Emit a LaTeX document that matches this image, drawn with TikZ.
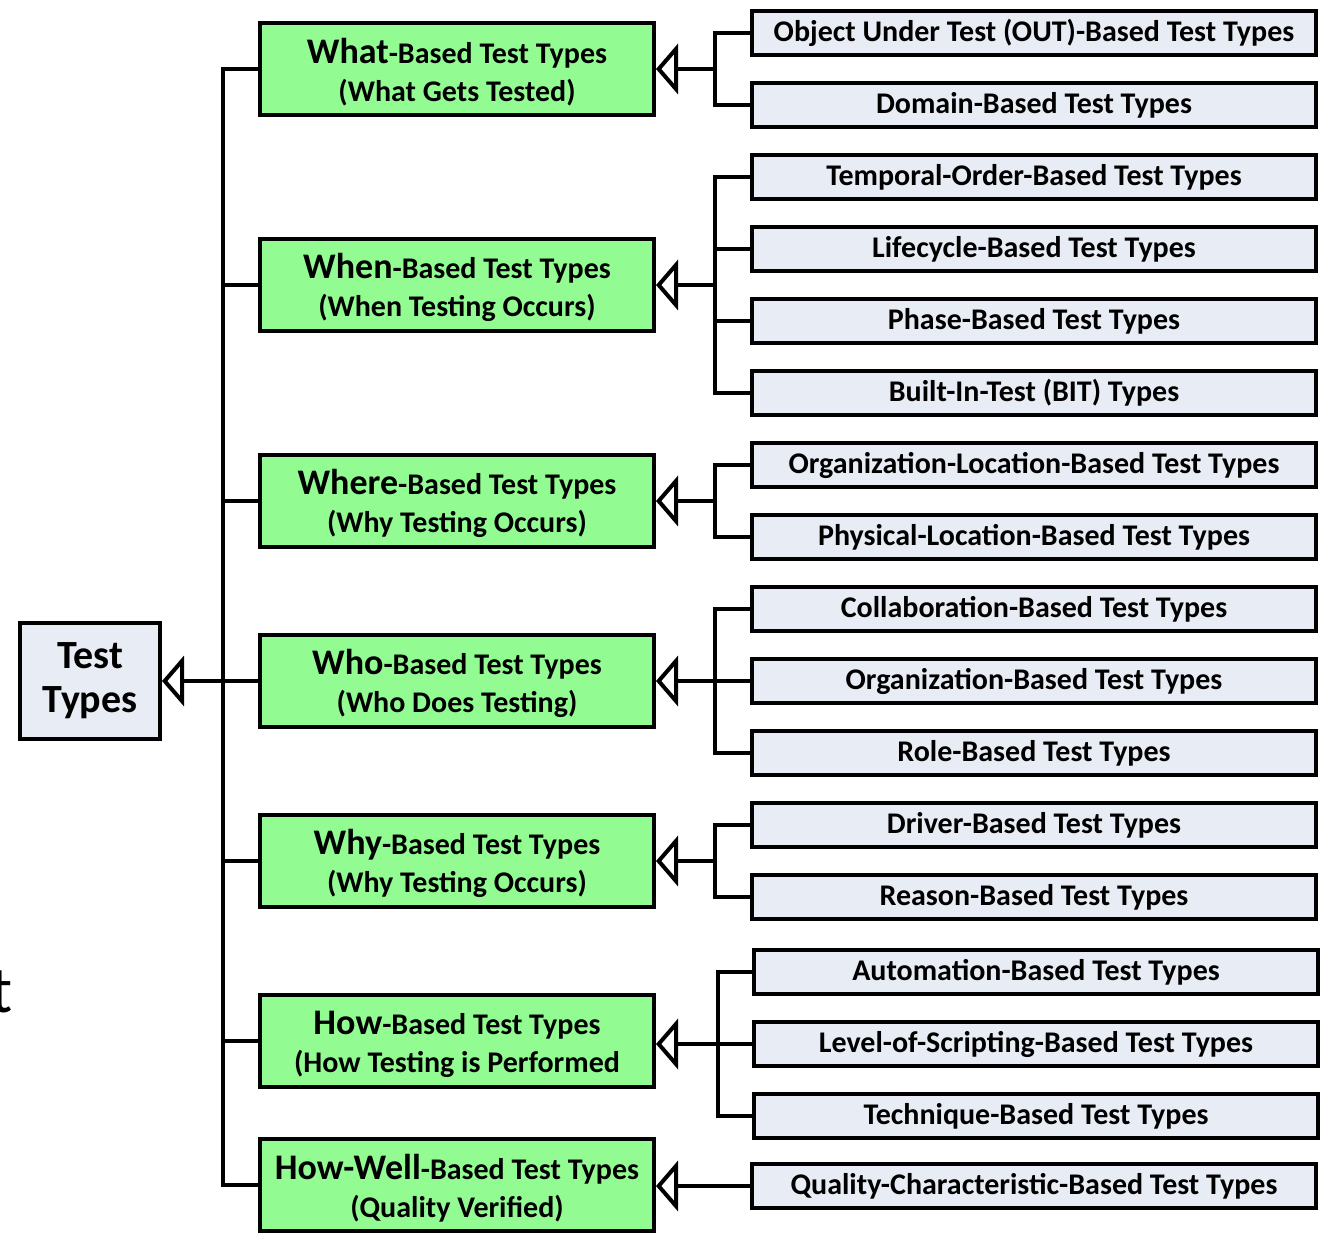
\documentclass[tikz,border=0pt]{standalone}
\usepackage{fontspec}
\setmainfont{Carlito}
\usetikzlibrary{arrows.meta}
\definecolor{gfill}{RGB}{146,252,146}
\definecolor{bfill}{RGB}{232,236,244}
\newcommand\Kw[1]{\rule{0pt}{31pt}{\fontsize{36}{38}\selectfont #1}}
\begin{document}
\begin{tikzpicture}[x=1pt,y=-1pt,
  rootbox/.style={draw,line width=4pt,fill=bfill,minimum width=140pt,minimum height=116pt,inner sep=0pt,align=center,font=\bfseries\fontsize{40}{44}\selectfont},
  grp/.style={draw,line width=4pt,fill=gfill,minimum width=394pt,minimum height=92pt,inner sep=0pt,align=center,font=\bfseries\fontsize{30}{38}\selectfont},
  leaf/.style={draw,line width=4pt,fill=bfill,minimum width=564pt,minimum height=44pt,inner sep=0pt,text height=21pt,text depth=5pt,font=\bfseries\fontsize{30}{30}\selectfont},
  conn/.style={line width=4pt},
  tri/.style={conn,-{Triangle[open,length=22pt,width=50pt]}}
]
\clip (0,0) rectangle (1325,1232);
\fill[white] (0,0) rectangle (1325,1232);

% root
\node[rootbox] (root) at (90,681) {Test\\Types};

% group boxes
\node[grp] (g1) at (457,69)   {\Kw{What}-Based Test Types\\(What Gets Tested)};
\node[grp] (g2) at (457,285)  {\Kw{When}-Based Test Types\\(When Testing Occurs)};
\node[grp] (g3) at (457,501)  {\Kw{Where}-Based Test Types\\(Why Testing Occurs)};
\node[grp] (g4) at (457,681)  {\Kw{Who}-Based Test Types\\(Who Does Testing)};
\node[grp] (g5) at (457,861)  {\Kw{Why}-Based Test Types\\(Why Testing Occurs)};
\node[grp] (g6) at (457,1041) {\Kw{How}-Based Test Types\\(How Testing is Performed};
\node[grp] (g7) at (457,1185) {\Kw{How-Well}-Based Test Types\\(Quality Verified)};

% leaves
\node[leaf] (l1)  at (1034,33)  {Object Under Test (OUT)-Based Test Types};
\node[leaf] (l2)  at (1034,105) {Domain-Based Test Types};
\node[leaf] (l3)  at (1034,177) {Temporal-Order-Based Test Types};
\node[leaf] (l4)  at (1034,249) {Lifecycle-Based Test Types};
\node[leaf] (l5)  at (1034,321) {Phase-Based Test Types};
\node[leaf] (l6)  at (1034,393) {Built-In-Test (BIT) Types};
\node[leaf] (l7)  at (1034,465) {Organization-Location-Based Test Types};
\node[leaf] (l8)  at (1034,537) {Physical-Location-Based Test Types};
\node[leaf] (l9)  at (1034,609) {Collaboration-Based Test Types};
\node[leaf] (l10) at (1034,681) {Organization-Based Test Types};
\node[leaf] (l11) at (1034,753) {Role-Based Test Types};
\node[leaf] (l12) at (1034,825) {Driver-Based Test Types};
\node[leaf] (l13) at (1034,897) {Reason-Based Test Types};
\node[leaf] (l14) at (1036,972) {Automation-Based Test Types};
\node[leaf] (l15) at (1036,1044) {Level-of-Scripting-Based Test Types};
\node[leaf] (l16) at (1036,1116) {Technique-Based Test Types};
\node[leaf] (l17) at (1034,1186) {Quality-Characteristic-Based Test Types};

% stray text at left edge
\node[anchor=base east,inner sep=0pt,font=\fontsize{66}{66}\selectfont] (tt) at (13,1012) {t};

% trunk
\coordinate (tr) at (223,681);
\foreach \g in {g1,g2,g3,g5,g6,g7}{\draw[conn] (\g.west) -| (tr);}
\draw[tri] (g4.west) -- (root.east);

% branch junctions
\coordinate (j1) at (715,69);
\coordinate (j2) at (715,285);
\coordinate (j3) at (715,501);
\coordinate (j4) at (715,681);
\coordinate (j5) at (715,861);
\coordinate (j6) at (718,1044);

\draw[tri] (j1) -- (g1.east);
\draw[tri] (j2) -- (g2.east);
\draw[tri] (j3) -- (g3.east);
\draw[tri] (j4) -- (g4.east);
\draw[tri] (j5) -- (g5.east);
\draw[tri] (j6) -- (g6.east |- j6);
\draw[tri] (l17.west) -- (g7.east |- l17.west);

\foreach \l in {l1,l2}{\draw[conn] (\l.west) -| (j1);}
\foreach \l in {l3,l4,l5,l6}{\draw[conn] (\l.west) -| (j2);}
\foreach \l in {l7,l8}{\draw[conn] (\l.west) -| (j3);}
\foreach \l in {l9,l10,l11}{\draw[conn] (\l.west) -| (j4);}
\foreach \l in {l12,l13}{\draw[conn] (\l.west) -| (j5);}
\foreach \l in {l14,l15,l16}{\draw[conn] (\l.west) -| (j6);}
\end{tikzpicture}
\end{document}
